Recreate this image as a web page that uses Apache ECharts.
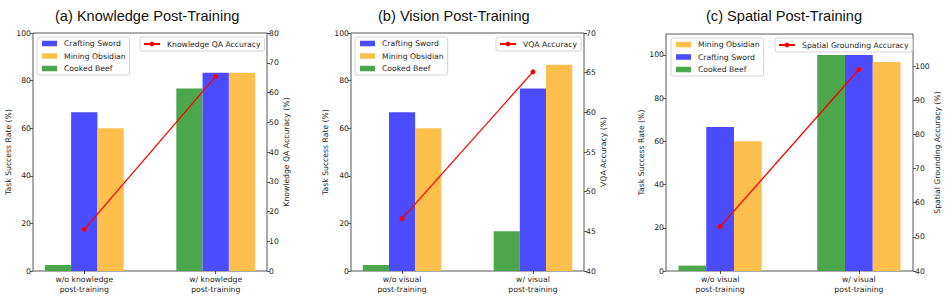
<!DOCTYPE html>
<html>
<head>
<meta charset="utf-8">
<script src="https://cdn.jsdelivr.net/npm/echarts@6/dist/echarts.min.js"></script>
<style>html,body{margin:0;padding:0;background:#fff}#c{width:947px;height:299px}</style>
</head>
<body>
<div id="c"></div>
<script>
// ---------- data ----------
const titles = ['(a) Knowledge Post-Training', '(b) Vision Post-Training', '(c) Spatial Post-Training'];
const categoriesA = ['w/o knowledge\npost-training', 'w/ knowledge\npost-training'];
const categoriesB = ['w/o visual\npost-training', 'w/ visual\npost-training'];
const categoriesC = ['w/o visual\npost-training', 'w/ visual\npost-training'];

const craftingSwordA = [66.7, 83.3];
const miningObsidianA = [60.0, 83.3];
const cookedBeefA = [2.5, 76.7];
const knowledgeQAAccuracy = [14.0, 65.4];

const craftingSwordB = [66.7, 76.7];
const miningObsidianB = [60.0, 86.7];
const cookedBeefB = [2.5, 16.7];
const vqaAccuracy = [46.6, 65.1];

const miningObsidianC = [60.0, 96.7];
const craftingSwordC = [66.7, 100.0];
const cookedBeefC = [2.5, 100.0];
const spatialGroundingAccuracy = [53.0, 99.0];

const leftTicks = [0, 20, 40, 60, 80, 100];
const rightTicksA = [0, 10, 20, 30, 40, 50, 60, 70, 80];
const rightTicksB = [40, 45, 50, 55, 60, 65, 70];
const rightTicksC = [40, 50, 60, 70, 80, 90, 100];

const leftNames = ['Task Success Rate (%)', 'Task Success Rate (%)', 'Task Success Rate (%)'];
const rightNames = ['Knowledge QA Accuracy (%)', 'VQA Accuracy (%)', 'Spatial Grounding Accuracy (%)'];
const lineNames = ['Knowledge QA Accuracy', 'VQA Accuracy', 'Spatial Grounding Accuracy'];

// ---------- styles / layout ----------
const COLORS = { 'Crafting Sword': '#4b4bff', 'Mining Obsidian': '#ffbf4d', 'Cooked Beef': '#4ca64c' };
const OFFSETS = { 'Cooked Beef': -0.2, 'Crafting Sword': 0, 'Mining Obsidian': 0.2 };
const BAR_UNIT = 0.2;
const X_MIN = -0.39, X_MAX = 1.39;
const FONT = "'DejaVu Sans', sans-serif";
const FS = 7.7;
const TXT = '#262626';

const panels = [
  { grid: { left: 33, top: 33, width: 234, height: 238 }, cats: categoriesA,
    bars: [['Cooked Beef', cookedBeefA], ['Crafting Sword', craftingSwordA], ['Mining Obsidian', miningObsidianA]],
    legendOrder: ['Crafting Sword', 'Mining Obsidian', 'Cooked Beef'],
    line: knowledgeQAAccuracy, leftRange: [0, 100], rightRange: [0, 80], rightTicks: rightTicksA,
    titleLeft: 50, leftGap: 19, rightGap: 13,
    legL: { left: 37, top: 37 }, legR: { left: 140, top: 37 } },
  { grid: { left: 351, top: 33, width: 233, height: 238 }, cats: categoriesB,
    bars: [['Cooked Beef', cookedBeefB], ['Crafting Sword', craftingSwordB], ['Mining Obsidian', miningObsidianB]],
    legendOrder: ['Crafting Sword', 'Mining Obsidian', 'Cooked Beef'],
    line: vqaAccuracy, leftRange: [0, 100], rightRange: [40, 70], rightTicks: rightTicksB,
    titleLeft: 373, leftGap: 22, rightGap: 13,
    legL: { left: 355, top: 37 }, legR: { left: 496, top: 37 } },
  { grid: { left: 666, top: 34, width: 247, height: 237 }, cats: categoriesC,
    bars: [['Cooked Beef', cookedBeefC], ['Crafting Sword', craftingSwordC], ['Mining Obsidian', miningObsidianC]],
    legendOrder: ['Mining Obsidian', 'Crafting Sword', 'Cooked Beef'],
    line: spatialGroundingAccuracy, leftRange: [0, 109.7], rightRange: [40, 109.4], rightTicks: rightTicksC,
    titleLeft: 701, leftGap: 21, rightGap: 18,
    legL: { left: 671, top: 38 }, legR: { left: 775, top: 38 } }
];

const option = { animation: false, backgroundColor: '#fff', title: [], grid: [], xAxis: [], yAxis: [], legend: [], series: [] };

const labelStyle = { fontSize: FS, fontFamily: FONT, color: TXT };

panels.forEach((p, i) => {
  option.title.push({ text: titles[i], left: p.titleLeft, top: 3,
    textStyle: { fontFamily: "'Liberation Sans', Arial, Helvetica, sans-serif", fontSize: 14.6, fontWeight: 'normal', color: '#111' } });
  option.grid.push(Object.assign({ show: true, borderColor: '#444', borderWidth: 0.9, backgroundColor: 'transparent', outerBoundsMode: 'none', containLabel: false }, p.grid));
  const catVals = p.cats.map((c, k) => k);
  option.xAxis.push({ type: 'value', gridIndex: i, min: X_MIN, max: X_MAX, position: 'bottom',
    axisLine: { show: false, onZero: false }, splitLine: { show: false },
    axisTick: { show: true, length: 3, customValues: catVals, lineStyle: { color: '#444', width: 0.9 } },
    axisLabel: Object.assign({ customValues: catVals, margin: 3, lineHeight: 10.5,
      formatter: v => p.cats[Math.round(v)] }, labelStyle) });
  option.yAxis.push({ type: 'value', gridIndex: i, position: 'left', min: p.leftRange[0], max: p.leftRange[1],
    name: leftNames[i], nameLocation: 'middle', nameGap: p.leftGap, nameRotate: 90, nameTextStyle: labelStyle,
    axisLine: { show: false, onZero: false }, splitLine: { show: false },
    axisTick: { show: true, length: 3, customValues: leftTicks, lineStyle: { color: '#444', width: 0.9 } },
    axisLabel: Object.assign({ customValues: leftTicks, margin: 2 }, labelStyle) });
  option.yAxis.push({ type: 'value', gridIndex: i, position: 'right', min: p.rightRange[0], max: p.rightRange[1],
    name: rightNames[i], nameLocation: 'middle', nameGap: p.rightGap, nameRotate: 90, nameTextStyle: labelStyle,
    axisLine: { show: false, onZero: false }, splitLine: { show: false },
    axisTick: { show: true, length: 3, customValues: p.rightTicks, lineStyle: { color: '#444', width: 0.9 } },
    axisLabel: Object.assign({ customValues: p.rightTicks, margin: 2 }, labelStyle) });

  const barW = p.grid.width / (X_MAX - X_MIN) * BAR_UNIT;
  p.bars.forEach(([name, vals]) => {
    option.series.push({ type: 'bar', name: name, xAxisIndex: i, yAxisIndex: 2 * i,
      barWidth: barW, barGap: '-100%', z: 2,
      itemStyle: { color: COLORS[name] },
      data: vals.map((v, k) => [k + OFFSETS[name], v]) });
  });
  option.series.push({ type: 'line', name: lineNames[i], xAxisIndex: i, yAxisIndex: 2 * i + 1, z: 5,
    symbol: 'circle', symbolSize: 5, showSymbol: true,
    lineStyle: { color: '#ff0000', width: 1.3 }, itemStyle: { color: '#ff0000' },
    data: p.line.map((v, k) => [k, v]) });

  const legBase = { orient: 'vertical', itemGap: 2.5, itemWidth: 15, itemHeight: 5.5,
    textStyle: { fontSize: FS, fontFamily: FONT, color: TXT, lineHeight: 10, padding: [0, 0, 0, 2] },
    borderColor: '#d4d4d4', borderWidth: 1, borderRadius: 2, backgroundColor: 'rgba(255,255,255,0.85)',
    padding: [1.5, 4, 1.5, 5], selectedMode: false };
  option.legend.push(Object.assign({}, legBase, p.legL, { icon: 'rect', data: p.legendOrder }));
  option.legend.push(Object.assign({}, legBase, p.legR, { itemWidth: 16, itemHeight: 6, padding: [2, 4, 2, 3], data: [lineNames[i]] }));
});

const chart = echarts.init(document.getElementById('c'), null, { renderer: 'svg' });
chart.setOption(option);
</script>
</body>
</html>
